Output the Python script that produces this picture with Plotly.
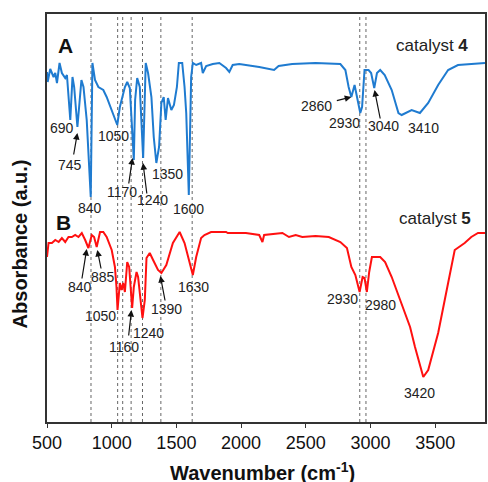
import plotly.graph_objects as go

# ---- data ----
wn_cat4 = [500, 505, 525, 551, 564, 577, 597, 615, 641, 654, 680, 697, 710, 735, 766, 782, 807, 838, 851, 871,
           897, 935, 961, 1000, 1025, 1043, 1063, 1102, 1120, 1140, 1171, 1181, 1197, 1217, 1243, 1263, 1281, 1307,
           1325, 1345, 1366, 1384, 1402, 1417, 1435, 1461, 1481, 1504, 1519, 1545, 1563, 1576, 1596, 1614, 1627,
           1653, 1691, 1704, 1730, 1781, 1832, 1884, 1909, 1935, 1986, 2140, 2255, 2290, 2395, 2575, 2767, 2806,
           2831, 2852, 2877, 2895, 2921, 2935, 2954, 2985, 3005, 3029, 3050, 3075, 3110, 3164, 3216, 3241, 3318,
           3382, 3446, 3523, 3600, 3676, 3779, 3885]
abs_cat4 = [350, 340, 353, 345, 349, 339, 359, 349, 344, 347, 302, 345, 335, 295, 342, 335, 302, 225, 359, 342,
            335, 332, 325, 312, 305, 297, 315, 335, 340, 334, 262, 322, 344, 335, 264, 359, 349, 325,
            285, 259, 275, 319, 325, 302, 324, 312, 317, 335, 359, 359, 335, 309, 227, 345, 359,
            357, 359, 349, 356, 358, 359, 354, 350, 357, 358, 355, 352, 356, 358, 359, 358, 352,
            335, 325, 337, 325, 309, 315, 352, 352, 349, 334, 349, 352, 347, 332, 309, 307, 312,
            309, 319, 337, 352, 357, 358, 359]

wn_cat5 = [500, 512, 538, 564, 590, 615, 641, 666, 692, 718, 743, 769, 795, 820, 846, 864, 884, 910, 935, 961,
           1000, 1025, 1037, 1045, 1063, 1076, 1089, 1102, 1120, 1135, 1158, 1171, 1192, 1204, 1238, 1256, 1269,
           1294, 1320, 1358, 1384, 1422, 1473, 1525, 1563, 1601, 1627, 1653, 1691, 1717, 1768, 1884, 1897, 2037,
           2140, 2165, 2178, 2319, 2370, 2422, 2473, 2575, 2678, 2767, 2818, 2852, 2883, 2916, 2939, 2954, 2972,
           2990, 3011, 3075, 3113, 3164, 3241, 3306, 3344, 3408, 3446, 3523, 3600, 3651, 3728, 3779, 3831, 3885]
abs_cat5 = [165, 179, 179, 182, 180, 184, 180, 185, 185, 187, 185, 189, 182, 174, 187, 185, 175, 190, 190, 185,
            172, 155, 135, 112, 139, 132, 139, 130, 160, 155, 114, 135, 150, 145, 104, 122, 164,
            169, 162, 152, 149, 157, 179, 190, 179, 159, 147, 165, 184, 187, 190, 190, 189, 189,
            187, 180, 187, 189, 185, 187, 185, 186, 185, 180, 174, 155, 147, 130, 145, 144, 130,
            150, 165, 165, 160, 145, 119, 95, 75, 45, 52, 89, 139, 172, 179, 185, 189, 189]

marker_lines = [840, 1046, 1085, 1150, 1238, 1380, 1622, 2917, 2965]
x_ticks = [500, 1000, 1500, 2000, 2500, 3000, 3500]

# peak labels: (text, x, y)
labels = [
    ("690", 615, 294), ("745", 679, 257), ("1050", 1017, 286), ("840", 833, 214),
    ("1170", 1076, 230), ("1240", 1319, 222), ("1350", 1435, 248), ("1600", 1596, 213),
    ("2860", 2580, 316), ("2930", 2801, 299), ("3040", 3100, 296), ("3410", 3407, 294),
    ("840", 756, 135), ("885", 935, 145), ("1050", 910, 106), ("1160", 1098, 75),
    ("1240", 1281, 89), ("1390", 1422, 113), ("1630", 1632, 135), ("2930", 2780, 123),
    ("2980", 3075, 117), ("3420", 3375, 29),
]
# arrows: tip (x, y), tail offset in px (ax, ay)
arrows = [
    (735, 289, -4, 23), (1161, 264, -4, 27), (1242, 259, 4, 32), (2852, 325, -16, 4),
    (3031, 332, 6, 30), (807, 173, -5, 31), (889, 172, 4, 20), (1153, 112, -3, 27),
    (1376, 146, 5, 26),
]

FONT = "Liberation Sans, Arial, sans-serif"

fig = go.Figure()
fig.add_trace(go.Scatter(x=wn_cat4, y=abs_cat4, mode="lines",
                         line=dict(color="#1f7bd0", width=2), showlegend=False))
fig.add_trace(go.Scatter(x=wn_cat5, y=abs_cat5, mode="lines",
                         line=dict(color="#ff1010", width=2), showlegend=False))

for xv in marker_lines:
    fig.add_shape(type="line", xref="x", yref="paper", x0=xv, x1=xv, y0=0, y1=1,
                  line=dict(color="#666666", width=1, dash="dot"), layer="below")

ann = []
for t, xv, yv in labels:
    ann.append(dict(x=xv, y=yv, xref="x", yref="y", text=t, showarrow=False,
                    font=dict(family=FONT, size=14, color="#222222"),
                    xanchor="center", yanchor="middle"))
for xv, yv, ax, ay in arrows:
    ann.append(dict(x=xv, y=yv, xref="x", yref="y", text="", showarrow=True,
                    ax=ax, ay=ay, arrowhead=2, arrowsize=1.1, arrowwidth=1.2,
                    arrowcolor="#111111", standoff=0))
ann += [
    dict(x=641, y=377, xref="x", yref="y", text="<b>A</b>", showarrow=False,
         font=dict(family=FONT, size=21, color="#111111")),
    dict(x=628, y=200, xref="x", yref="y", text="<b>B</b>", showarrow=False,
         font=dict(family=FONT, size=21, color="#111111")),
    dict(x=3769, y=377, xref="x", yref="y", text="catalyst <b>4</b>", showarrow=False,
         xanchor="right", font=dict(family=FONT, size=17, color="#222222")),
    dict(x=3792, y=204, xref="x", yref="y", text="catalyst <b>5</b>", showarrow=False,
         xanchor="right", font=dict(family=FONT, size=17, color="#222222")),
    dict(x=0.491, y=-0.122, xref="paper", yref="paper",
         text="<b>Wavenumber (cm<sup>-1</sup>)</b>", showarrow=False,
         xanchor="center", yanchor="middle", font=dict(family=FONT, size=20, color="#111111")),
    dict(x=-0.061, y=0.436, xref="paper", yref="paper", text="<b>Absorbance (a.u.)</b>",
         showarrow=False, textangle=-90, xanchor="center", yanchor="middle",
         font=dict(family=FONT, size=20, color="#111111")),
]

fig.update_layout(
    width=488, height=482,
    margin=dict(l=47, r=1, t=14, b=60),
    paper_bgcolor="white", plot_bgcolor="white",
    annotations=ann,
    xaxis=dict(range=[500, 3885], tickvals=x_ticks, ticks="outside", ticklen=4,
               tickcolor="#333333", showline=True, linecolor="#333333", linewidth=1.5,
               mirror=True, showgrid=False, zeroline=False,
               tickfont=dict(family=FONT, size=18, color="#111111")),
    yaxis=dict(range=[0, 408], showticklabels=False, ticks="", showline=True,
               linecolor="#333333", linewidth=1.5, mirror=True, showgrid=False, zeroline=False),
)

fig.write_html("out.html", config={"displayModeBar": False},
               post_script="document.body.style.margin='0';document.body.style.overflow='hidden';")
